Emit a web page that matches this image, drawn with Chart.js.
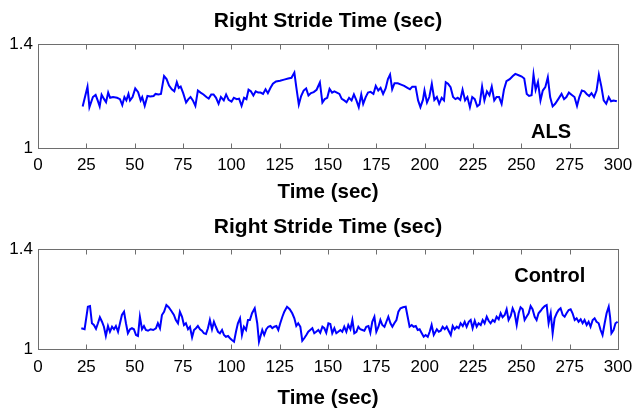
<!DOCTYPE html>
<html>
<head>
<meta charset="utf-8">
<script src="https://cdn.jsdelivr.net/npm/chart.js@4.4.0/dist/chart.umd.min.js"></script>
<style>
  html, body { margin: 0; padding: 0; background: #fff; }
  #wrap { position: relative; width: 634px; height: 409px; }
  canvas { position: absolute; left: 0; }
</style>
</head>
<body>
<div id="wrap">
  <canvas id="alsChart" width="634" height="205" style="top:0"></canvas>
  <canvas id="ctrlChart" width="634" height="204" style="top:205px"></canvas>
</div>
<script>
// ALS subject: time (sec) and right stride time (sec)
const alsTime = [23.1,25.6,26.6,28.4,29.8,31.0,31.9,32.9,34.2,35.2,
  36.3,37.3,38.8,40.9,42.4,43.6,44.7,45.7,46.8,47.6,
  48.9,50.3,51.8,53.1,53.9,55.2,56.6,58.1,59.8,60.8,
  62.3,63.6,65.2,66.5,67.8,69.2,70.5,71.8,72.8,73.8,
  75.1,76.6,77.8,78.9,80.1,81.4,82.7,84.1,85.6,87.1,
  88.3,89.6,90.8,92.1,93.4,94.6,96.1,97.3,98.6,100.1,
  101.3,102.8,104.0,105.3,106.6,107.8,108.9,110.1,111.4,112.6,
  113.9,115.1,116.4,117.7,118.9,120.2,121.5,123.1,125.2,127.3,
  129.4,131.1,132.6,133.6,134.9,136.1,137.4,138.7,139.9,141.2,
  142.6,144.1,145.8,147.1,148.3,149.6,150.8,152.1,153.3,154.6,
  155.9,157.1,158.4,159.6,160.9,162.2,163.4,164.7,165.9,167.2,
  168.2,169.5,170.7,172.0,173.5,174.7,176.0,177.2,178.5,179.8,
  181.0,182.1,183.2,184.4,186.1,187.8,189.4,191.1,192.4,193.6,
  195.3,196.6,197.8,199.1,199.9,201.2,202.4,203.7,205.0,206.3,
  207.5,208.8,210.0,210.9,212.1,213.4,214.7,215.9,217.1,218.4,
  219.6,220.9,222.1,223.4,224.6,225.9,227.2,228.4,229.7,230.9,
  232.2,233.5,234.7,236.0,237.2,238.5,239.8,241.0,242.3,244.0,
  245.6,246.9,248.6,250.2,251.5,252.8,254.0,255.3,256.3,257.4,
  258.6,259.9,261.1,262.4,263.7,264.9,266.2,267.5,269.1,270.8,
  272.1,273.3,274.6,276.3,277.5,278.8,280.0,281.3,282.6,283.8,
  285.1,286.3,287.6,288.9,290.1,291.4,292.6,293.9,295.2,296.4,
  297.7,299.4];
const alsStride = [1.160,1.236,1.157,1.196,1.204,1.180,1.160,1.205,1.188,1.176,
  1.213,1.193,1.196,1.193,1.188,1.165,1.196,1.183,1.208,1.183,
  1.196,1.229,1.215,1.183,1.196,1.162,1.200,1.198,1.200,1.208,
  1.206,1.208,1.277,1.265,1.240,1.226,1.218,1.253,1.231,1.236,
  1.211,1.175,1.188,1.196,1.183,1.162,1.221,1.213,1.206,1.196,
  1.190,1.206,1.206,1.193,1.170,1.196,1.183,1.206,1.185,1.178,
  1.193,1.188,1.190,1.162,1.193,1.188,1.224,1.218,1.202,1.218,
  1.213,1.213,1.208,1.226,1.211,1.231,1.247,1.256,1.259,1.263,
  1.267,1.270,1.290,1.234,1.167,1.200,1.221,1.229,1.202,1.211,
  1.215,1.224,1.252,1.175,1.188,1.193,1.227,1.213,1.218,1.213,
  1.208,1.189,1.183,1.176,1.193,1.183,1.206,1.183,1.157,1.206,
  1.170,1.196,1.213,1.216,1.208,1.239,1.221,1.231,1.208,1.229,
  1.265,1.282,1.226,1.249,1.249,1.244,1.239,1.231,1.226,1.236,
  1.236,1.183,1.157,1.185,1.221,1.175,1.196,1.247,1.185,1.196,
  1.170,1.193,1.183,1.253,1.247,1.234,1.196,1.188,1.193,1.185,
  1.224,1.183,1.196,1.157,1.196,1.188,1.160,1.167,1.236,1.183,
  1.218,1.203,1.236,1.183,1.196,1.196,1.170,1.224,1.257,1.265,
  1.277,1.285,1.280,1.275,1.267,1.208,1.200,1.203,1.282,1.224,
  1.254,1.183,1.221,1.234,1.272,1.196,1.160,1.170,1.188,1.208,
  1.188,1.196,1.213,1.203,1.196,1.162,1.196,1.221,1.218,1.208,
  1.200,1.211,1.196,1.221,1.282,1.236,1.183,1.170,1.196,1.180,
  1.183,1.180];

// Control subject
const ctrlTime = [22.4,24.1,25.8,26.9,27.9,28.9,30.0,31.0,32.0,33.1,
  34.1,35.1,36.2,37.2,38.3,39.3,40.3,41.4,42.4,43.4,
  44.5,45.5,46.5,47.6,48.6,49.6,50.7,51.7,52.7,53.8,
  54.8,55.8,56.9,58.2,59.6,61.0,62.0,63.1,64.1,65.2,
  66.4,67.6,68.9,70.3,71.3,72.4,73.4,74.5,75.5,76.5,
  77.6,78.6,79.7,80.7,81.7,82.7,83.8,84.8,85.8,86.9,
  87.9,88.9,90.0,91.0,92.0,93.1,94.1,95.2,96.2,97.2,
  98.3,99.3,100.3,101.4,102.4,103.4,104.5,105.5,106.5,107.6,
  108.6,109.6,110.7,112.1,113.4,114.3,
  116.0,117.0,118.1,119.1,120.2,121.2,122.2,123.3,124.3,125.3,
  126.4,127.4,128.8,130.2,131.5,132.6,133.6,134.6,135.7,136.7,
  137.7,138.8,139.8,140.8,141.9,142.9,143.9,145.0,146.0,147.1,
  148.1,149.1,150.2,151.2,152.2,153.3,154.3,155.3,156.4,157.4,
  158.4,159.5,160.5,161.6,162.6,163.6,164.7,165.7,166.7,167.8,
  168.8,169.8,170.9,171.9,172.9,174.0,175.0,176.1,177.1,178.1,
  179.2,180.2,181.2,182.3,183.3,184.3,185.4,186.4,187.5,188.8,
  190.2,191.2,192.2,193.3,194.3,195.4,196.4,197.4,198.5,199.5,
  200.5,201.6,202.6,203.6,204.7,
  206.3,207.3,208.3,209.3,210.4,211.4,212.4,213.5,214.5,215.5,
  216.6,217.6,218.6,219.7,220.7,221.7,222.8,223.8,224.8,225.9,
  226.9,227.9,229.0,230.0,231.0,232.1,233.1,234.1,235.2,236.2,
  237.2,238.3,239.3,240.3,241.4,242.4,243.4,244.5,245.5,246.5,
  247.6,248.6,249.6,250.7,251.7,252.7,253.8,254.8,255.8,256.9,
  257.9,258.9,260.0,261.0,262.1,263.1,264.1,265.2,266.2,267.2,
  268.3,269.3,270.3,271.4,272.4,273.4,274.5,275.5,276.5,277.6,
  278.6,279.6,280.7,281.7,282.7,283.8,284.8,285.8,286.9,287.9,
  288.9,290.0,291.0,292.0,293.1,294.1,295.2,295.9,296.6,297.7,
  298.7,299.8];
const ctrlStride = [1.083,1.079,1.169,1.172,1.103,1.096,1.081,1.103,1.127,1.109,
  1.089,1.052,1.092,1.069,1.089,1.079,1.092,1.069,1.103,1.136,
  1.149,1.103,1.063,1.079,1.083,1.079,1.056,1.052,1.129,1.079,
  1.092,1.076,1.073,1.079,1.076,1.083,1.103,1.083,1.136,1.149,
  1.176,1.167,1.153,1.136,1.116,1.103,1.149,1.129,1.096,1.103,
  1.079,1.089,1.047,1.076,1.083,1.092,1.079,1.073,1.063,1.060,
  1.083,1.116,1.079,1.109,1.089,1.069,1.063,1.076,1.056,1.049,
  1.052,1.043,1.036,1.029,1.069,1.103,1.123,1.056,1.089,1.076,
  1.116,1.116,1.143,1.163,1.103,1.029,
  1.076,1.056,1.079,1.089,1.092,1.083,1.089,1.092,1.076,1.103,
  1.129,1.149,1.169,1.159,1.143,1.123,1.092,1.103,1.089,1.033,
  1.043,1.056,1.069,1.076,1.083,1.063,1.069,1.076,1.065,1.089,
  1.083,1.065,1.103,1.100,1.063,1.083,1.063,1.069,1.076,1.069,
  1.089,1.069,1.096,1.079,1.116,1.063,1.069,1.089,1.079,1.076,
  1.073,1.089,1.092,1.065,1.109,1.129,1.069,1.089,1.116,1.096,
  1.089,1.109,1.129,1.103,1.089,1.103,1.116,1.149,1.163,1.167,
  1.169,1.129,1.089,1.096,1.089,1.092,1.076,1.079,1.063,1.049,
  1.056,1.049,1.069,1.096,1.056,
  1.079,1.069,1.073,1.089,1.079,1.089,1.073,1.056,1.092,1.079,
  1.089,1.083,1.103,1.092,1.109,1.089,1.109,1.116,1.083,1.113,
  1.089,1.103,1.096,1.116,1.103,1.129,1.113,1.103,1.116,1.109,
  1.129,1.119,1.143,1.127,1.136,1.159,1.116,1.132,1.163,1.145,
  1.096,1.143,1.167,1.159,1.116,1.129,1.143,1.172,1.159,1.129,
  1.116,1.143,1.153,1.163,1.172,1.176,1.103,1.143,1.063,1.123,
  1.143,1.156,1.163,1.136,1.129,1.143,1.156,1.159,1.143,1.116,
  1.123,1.109,1.119,1.103,1.116,1.096,1.109,1.089,1.116,1.123,
  1.109,1.103,1.076,1.056,1.103,1.143,1.169,1.129,1.063,1.076,
  1.103,1.109];

// axis ticks
const yTicks = [1, 1.4];
const xStep = 25;

const fontFamily = "'Liberation Sans', Arial, Helvetica, sans-serif";

// matlab style box with inward ticks + the subject tag
const boxPlugin = {
  id: 'matlabBox',
  afterDatasetsDraw(chart, args, opts) {
    const ctx = chart.ctx;
    const a = chart.chartArea;
    const x = chart.scales.x;
    const y = chart.scales.y;
    ctx.save();
    ctx.strokeStyle = '#6e6e6e';
    ctx.lineWidth = 1;
    const l = Math.round(a.left) + 0.5, t = Math.round(a.top) + 0.5;
    const r = Math.round(a.right) + 0.5, b = Math.round(a.bottom) + 0.5;
    ctx.strokeRect(l, t, r - l, b - t);
    ctx.beginPath();
    x.ticks.forEach(tk => {
      const px = Math.round(x.getPixelForValue(tk.value)) + 0.5;
      ctx.moveTo(px, b); ctx.lineTo(px, b - 5);
      ctx.moveTo(px, t); ctx.lineTo(px, t + 5);
    });
    ctx.stroke();
    ctx.fillStyle = '#000';
    ctx.font = 'bold 20px ' + fontFamily;
    ctx.textAlign = 'center';
    ctx.textBaseline = 'middle';
    ctx.fillText(opts.text, x.getPixelForValue(opts.x), y.getPixelForValue(opts.y));
    ctx.restore();
  }
};

function makeChart(id, times, strides, tag, pad) {
  return new Chart(document.getElementById(id), {
    type: 'line',
    data: {
      datasets: [{
        data: times.map((t, i) => ({x: t, y: strides[i]})),
        borderColor: '#0000ff',
        borderWidth: 2,
        pointRadius: 0,
        tension: 0,
        fill: false
      }]
    },
    options: {
      responsive: false,
      animation: false,
      events: [],
      layout: {padding: {left: 0, right: 16, top: 0, bottom: 0}},
      plugins: {
        legend: {display: false},
        tooltip: {enabled: false},
        title: {
          display: true,
          fullSize: false,
          text: 'Right Stride Time (sec)',
          color: '#000',
          font: {family: fontFamily, size: 21, weight: 'bold'},
          padding: {top: pad.titleTop, bottom: pad.titleBottom}
        },
        matlabBox: tag
      },
      scales: {
        x: {
          type: 'linear', min: 0, max: 300,
          grid: {display: false, drawTicks: false},
          border: {display: false},
          ticks: {stepSize: xStep, autoSkip: false, maxRotation: 0, color: '#000',
                  padding: pad.tickPad, font: {family: fontFamily, size: 17}},
          title: {display: true, text: 'Time (sec)', color: '#000',
                  font: {family: fontFamily, size: 20.5, weight: 'bold'},
                  padding: {top: 0, bottom: pad.xTitleBottom}},
          afterFit: s => { s.height = pad.xHeight; s.paddingLeft = 0; s.paddingRight = 0; }
        },
        y: {
          min: 1, max: 1.4,
          grid: {display: false, drawTicks: false},
          border: {display: false},
          afterBuildTicks: s => { s.ticks = yTicks.map(v => ({value: v})); },
          ticks: {color: '#000', padding: 5, callback: v => String(v),
                  font: {family: fontFamily, size: 17}},
          afterFit: s => { s.width = 38; }
        }
      }
    },
    plugins: [boxPlugin]
  });
}

makeChart('alsChart', alsTime, alsStride,
  {text: 'ALS', x: 265.4, y: 1.059},
  {titleTop: 8.4, titleBottom: 10.4, xHeight: 57, xTitleBottom: 0, tickPad: 7});
makeChart('ctrlChart', ctrlTime, ctrlStride,
  {text: 'Control', x: 264.7, y: 1.291},
  {titleTop: 9.4, titleBottom: 9.4, xHeight: 60, xTitleBottom: -2, tickPad: 8});
</script>
</body>
</html>
